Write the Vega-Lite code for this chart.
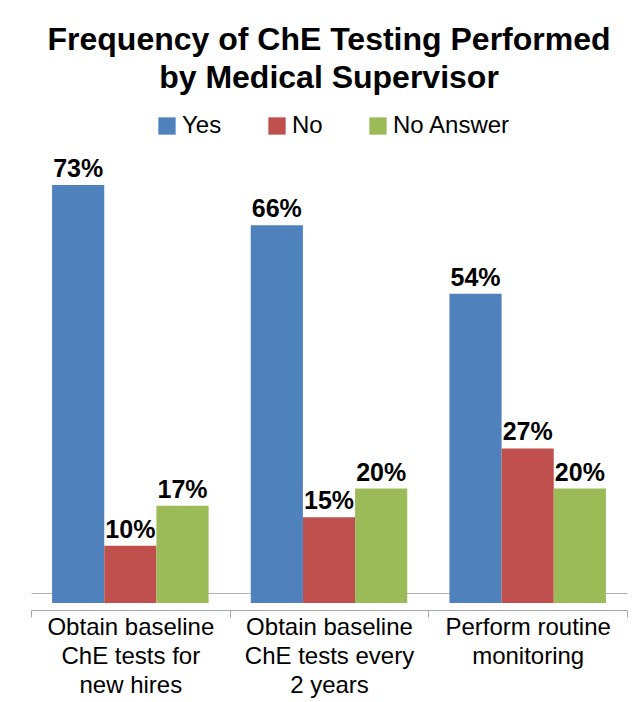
{
  "$schema": "https://vega.github.io/schema/vega-lite/v6.json",
  "autosize": {"type": "none"},
  "width": 596,
  "height": 458,
  "padding": {"left": 31, "right": 17, "top": 145, "bottom": 99},
  "background": "white",
  "title": {
    "text": ["Frequency of ChE Testing Performed", "by Medical Supervisor"],
    "font": "Liberation Sans",
    "fontSize": 32,
    "fontWeight": "bold",
    "lineHeight": 38,
    "color": "black",
    "anchor": "middle",
    "offset": 19
  },
  "data": {
    "values": [
      {"item": "Obtain baseline|ChE tests for|new hires", "response": "Yes", "pct": 0.73},
      {"item": "Obtain baseline|ChE tests for|new hires", "response": "No", "pct": 0.10},
      {"item": "Obtain baseline|ChE tests for|new hires", "response": "No Answer", "pct": 0.17},
      {"item": "Obtain baseline|ChE tests every|2 years", "response": "Yes", "pct": 0.66},
      {"item": "Obtain baseline|ChE tests every|2 years", "response": "No", "pct": 0.15},
      {"item": "Obtain baseline|ChE tests every|2 years", "response": "No Answer", "pct": 0.20},
      {"item": "Perform routine|monitoring", "response": "Yes", "pct": 0.54},
      {"item": "Perform routine|monitoring", "response": "No", "pct": 0.27},
      {"item": "Perform routine|monitoring", "response": "No Answer", "pct": 0.20}
    ]
  },
  "encoding": {
    "x": {
      "field": "item",
      "type": "nominal",
      "sort": null,
      "scale": {"paddingInner": 0, "paddingOuter": 0},
      "axis": {
        "title": null,
        "labelAngle": 0,
        "labelExpr": "split(datum.label, '|')",
        "labelFont": "Liberation Sans",
        "labelFontSize": 24,
        "labelLineHeight": 29,
        "labelColor": "black",
        "labelPadding": -2,
        "offset": 7,
        "domainColor": "#A6A6A6",
        "tickColor": "#A6A6A6",
        "tickSize": 7,
        "tickBand": "extent"
      }
    },
    "xOffset": {
      "field": "response",
      "type": "nominal",
      "sort": ["Yes", "No", "No Answer"],
      "scale": {"paddingInner": 0, "paddingOuter": 0.404}
    },
    "y": {
      "field": "pct",
      "type": "quantitative",
      "scale": {"domain": [0, 0.8]},
      "axis": {
        "title": null,
        "values": [0.017],
        "grid": true,
        "gridColor": "#B0B0B0",
        "domain": false,
        "ticks": false,
        "labels": false
      }
    }
  },
  "layer": [
    {
      "mark": {"type": "bar"},
      "encoding": {
        "color": {
          "field": "response",
          "type": "nominal",
          "sort": ["Yes", "No", "No Answer"],
          "scale": {
            "domain": ["Yes", "No", "No Answer"],
            "range": ["#4F81BD", "#C0504D", "#9BBB59"]
          },
          "legend": {
            "title": null,
            "orient": "none",
            "direction": "horizontal",
            "legendX": 124,
            "legendY": -31,
            "padding": 0,
            "symbolType": "square",
            "symbolSize": 300,
            "symbolStrokeWidth": 0,
            "symbolOpacity": 1,
            "labelFont": "Liberation Sans",
            "labelFontSize": 24,
            "labelColor": "black",
            "labelOffset": 3,
            "columnPadding": 43
          }
        }
      }
    },
    {
      "mark": {
        "type": "text",
        "baseline": "bottom",
        "dy": -3,
        "font": "Liberation Sans",
        "fontSize": 25,
        "fontWeight": "bold",
        "color": "black"
      },
      "encoding": {
        "text": {"field": "pct", "type": "quantitative", "format": ".0%"}
      }
    }
  ],
  "config": {"view": {"stroke": null}}
}
